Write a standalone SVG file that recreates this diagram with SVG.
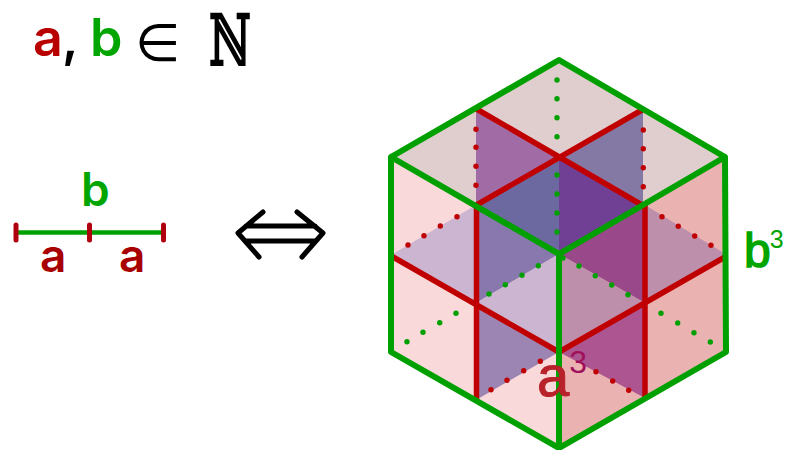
<svg xmlns="http://www.w3.org/2000/svg" width="785" height="450" viewBox="0 0 785 450">
<style>
text{font-family:"Liberation Sans",Arial,sans-serif}
.lab{font-family:Inter,"Liberation Sans",sans-serif;font-weight:600}
.r{fill:#b80000}.g{fill:#00a500}
.dr{fill:#c00000}.dg{fill:#00a000}
.red{stroke:#c00000;stroke-width:5.500;fill:none;stroke-linecap:round}
.grn{stroke:#00a000;stroke-width:6;fill:none;stroke-linejoin:round;stroke-linecap:round}
</style>
<rect width="785" height="450" fill="#fff"/>
<g id="statement">
<text x="33" y="56" font-size="52" class="lab r">a</text>
<text x="62" y="56" font-size="52" class="lab" fill="#000">,</text>
<text x="90" y="56" font-size="52" class="lab g">b</text>
<text x="135" y="61" font-size="52" style="font-family:'DejaVu Sans',sans-serif" fill="#000">∈</text>
<text x="209" y="65" font-size="70" textLength="42" lengthAdjust="spacingAndGlyphs" stroke="#000" stroke-width="2.200" style="font-family:'DejaVu Serif',serif" fill="#000">ℕ</text>
</g>
<g id="segment">
<line x1="16" y1="232.5" x2="163" y2="232.5" stroke="#00a000" stroke-width="4.5"/>
<g stroke="#b00010" stroke-width="5" stroke-linecap="round">
<line x1="16" y1="225" x2="16" y2="240"/><line x1="89.500" y1="225" x2="89.500" y2="240"/><line x1="163.500" y1="225" x2="163.500" y2="240"/>
</g>
<text x="81" y="206" font-size="46" class="lab g">b</text>
<text x="40" y="272" font-size="46" class="lab" fill="#a80000">a</text>
<text x="119" y="272" font-size="46" class="lab" fill="#a80000">a</text>
</g>
<g id="equivalence" stroke="#000" stroke-width="5" fill="none" stroke-linecap="round" stroke-linejoin="round">
<path d="M263 212L238 233L259 257M297 212L323 233L302 257M246 226H315M246 241H315"/>
</g>
<g id="cube">
<path fill="#e0cdcd" d="M559 60L725 157L559 254L391 157Z"/>
<path fill="#f9d9d9" d="M391 157L559 254V448L391 352Z"/>
<path fill="#ebb2b2" d="M725 157L559 254V448L727 352Z"/>
<path fill="#a16ca5" d="M476 109L559 156V156L476 205Z"/>
<path fill="#8479a5" d="M643 109L559 156L643 205Z"/>
<path fill="#6c69a0" d="M476 205L559 156V254Z"/>
<path fill="#704095" d="M559 156L645 205L559 254Z"/>
<path fill="#8878ae" d="M476 205L559 254L476 303Z"/>
<path fill="#994889" d="M645 205L559 254L645 303Z"/>
<path fill="#ccb5d0" d="M391 255L476 205V303Z"/>
<path fill="#ccb5d0" d="M476 303L559 254V352Z"/>
<path fill="#bd8fab" d="M559 254L645 303L559 352Z"/>
<path fill="#bd8fab" d="M645 205L727 255L645 303Z"/>
<path fill="#9d85b3" d="M476 303L559 352L476 400Z"/>
<path fill="#ac5590" d="M645 303L559 352L645 398Z"/>
</g>
<g id="connectors">
<path class="red" d="M476.500 109L642 205M642 110L476.500 205M476.500 205V400M645 205V398M393 257L559 352M725 257L559 352"/>
<path class="grn" d="M559 60L725 157L726 352L559 448L391 352V157ZM391 157L559 254L725 157M559 254V448"/>
<g class="dg">
<circle cx="557" cy="80" r="2.700"/><circle cx="557" cy="98.700" r="2.700"/><circle cx="557" cy="117.700" r="2.700"/><circle cx="557" cy="136.700" r="2.700"/>
<circle cx="557" cy="175" r="2.700"/><circle cx="557" cy="194" r="2.700"/><circle cx="557" cy="213" r="2.700"/><circle cx="557" cy="232" r="2.700"/>
<circle cx="489" cy="294" r="2.700"/><circle cx="505.300" cy="284.700" r="2.700"/><circle cx="522" cy="275.300" r="2.700"/><circle cx="538.300" cy="265.700" r="2.700"/>
<circle cx="563" cy="258" r="2.700"/><circle cx="579" cy="266" r="2.700"/><circle cx="595.300" cy="275.700" r="2.700"/><circle cx="611.700" cy="285" r="2.700"/><circle cx="628" cy="294.700" r="2.700"/>
<circle cx="407" cy="341.700" r="2.700"/><circle cx="423" cy="332.300" r="2.700"/><circle cx="439.700" cy="322.700" r="2.700"/><circle cx="456" cy="313.300" r="2.700"/>
<circle cx="661" cy="313.300" r="2.700"/><circle cx="677.700" cy="323" r="2.700"/><circle cx="694" cy="332.700" r="2.700"/><circle cx="710.300" cy="342" r="2.700"/>
</g>
<g class="dr">
<circle cx="476" cy="129.300" r="2.700"/><circle cx="476" cy="147.300" r="2.700"/><circle cx="476" cy="166.300" r="2.700"/><circle cx="476" cy="185.300" r="2.700"/>
<circle cx="643.300" cy="130" r="2.700"/><circle cx="643.300" cy="148.700" r="2.700"/><circle cx="643.300" cy="167.700" r="2.700"/><circle cx="643.300" cy="186.700" r="2.700"/>
<circle cx="408" cy="245" r="2.700"/><circle cx="424" cy="235.700" r="2.700"/><circle cx="440.300" cy="226" r="2.700"/><circle cx="457" cy="216.700" r="2.700"/>
<circle cx="662" cy="216.700" r="2.700"/><circle cx="678.300" cy="226.300" r="2.700"/><circle cx="694.700" cy="236" r="2.700"/><circle cx="711" cy="245.300" r="2.700"/>
<circle cx="491" cy="389.700" r="2.700"/><circle cx="507" cy="380.300" r="2.700"/><circle cx="523.700" cy="370.700" r="2.700"/><circle cx="540.300" cy="361.300" r="2.700"/>
<circle cx="596" cy="371.700" r="2.700"/><circle cx="612.700" cy="381" r="2.700"/><circle cx="628.700" cy="390.300" r="2.700"/>
</g>
</g>
<g id="a3">
<text x="537" y="396" font-size="58" fill="#b8222a" stroke="#b8222a" stroke-width="1">a<tspan dy="-23" font-size="32" stroke="none" fill="#a0105a">3</tspan></text>
</g>
<g id="b3">
<text x="744" y="267" font-size="48" fill="#00a500" stroke="#00a500" stroke-width="1.500">b<tspan dx="-1" dy="-19" font-size="25" stroke="none">3</tspan></text>
</g>
</svg>
